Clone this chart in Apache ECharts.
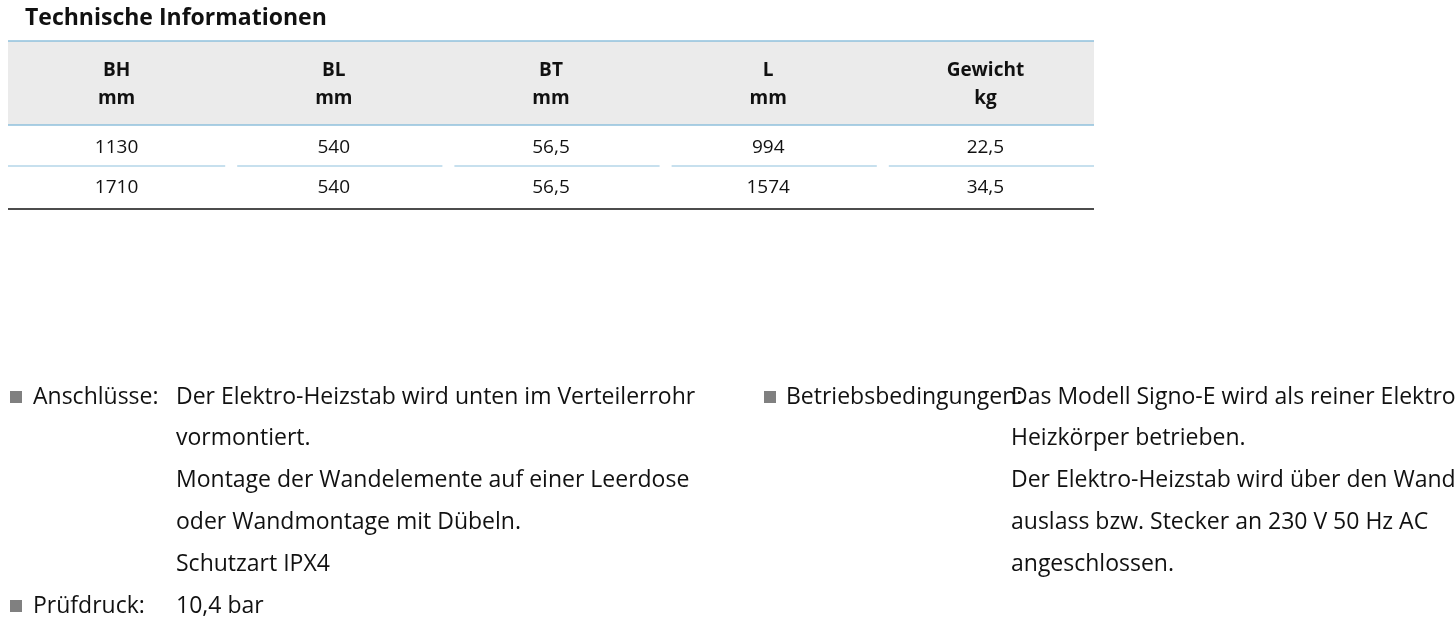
<!DOCTYPE html>
<html><head><meta charset="utf-8">
<script src="https://cdn.jsdelivr.net/npm/echarts@6/dist/echarts.min.js"></script>
<style>html,body{margin:0;background:#fff}#c{width:1456px;height:636px}</style>
</head><body><div id="c"></div>
<script>
'use strict';
var title = 'Technische Informationen';
var headers = ['BH', 'BL', 'BT', 'L', 'Gewicht'];
var units = ['mm', 'mm', 'mm', 'mm', 'kg'];
var rows = [
    ['1130', '540', '56,5', '994', '22,5'],
    ['1710', '540', '56,5', '1574', '34,5']
];
var leftNotes = [
    {label: 'Anschlüsse:', lines: ['Der Elektro-Heizstab wird unten im Verteilerrohr', 'vormontiert.', 'Montage der Wandelemente auf einer Leerdose', 'oder Wandmontage mit Dübeln.', 'Schutzart IPX4']},
    {label: 'Prüfdruck:', lines: ['10,4 bar']}
];
var rightNotes = [
    {label: 'Betriebsbedingungen:', lines: ['Das Modell Signo-E wird als reiner Elektro-', 'Heizkörper betrieben.', 'Der Elektro-Heizstab wird über den Wand-', 'auslass bzw. Stecker an 230 V 50 Hz AC', 'angeschlossen.']}
];

var font = '"Liberation Sans Narrow", "Open Sans", sans-serif';
var chart = echarts.init(document.getElementById('c'));
var g = [];

function txt(x, y, s, size, weight, align) {
    g.push({type: 'text', x: x, y: y, style: {text: s, fill: '#111', font: (weight || 'normal') + ' ' + size + 'px ' + font, textAlign: align || 'left', textVerticalAlign: 'middle'}});
}
function line(x1, y1, x2, y2, color, w) {
    g.push({type: 'line', shape: {x1: x1, y1: y1, x2: x2, y2: y2}, style: {stroke: color, lineWidth: w || 1}});
}

txt(25, 18, title, 23, 'bold');
g.push({type: 'rect', shape: {x: 8, y: 41, width: 1086, height: 84}, style: {fill: '#ebebeb'}});
line(8, 41, 1094, 41, '#8fc1dd', 1.5);
line(8, 125, 1094, 125, '#8fc1dd', 1.5);

var colW = 1086 / 5;
for (var i = 0; i < headers.length; i++) {
    var cx = 8 + colW * (i + 0.5);
    txt(cx, 71, headers[i], 19, 'bold', 'center');
    txt(cx, 99, units[i], 19, 'bold', 'center');
    for (var r = 0; r < rows.length; r++) {
        txt(cx, 148 + r * 40, rows[r][i], 19, 'normal', 'center');
    }
    var x1 = i === 0 ? 8 : 8 + colW * i + 12;
    var x2 = 8 + colW * (i + 1) - (i === 4 ? 0 : 0);
    line(x1, 166, x2, 166, '#8fc1dd', 1.2);
}
line(8, 209, 1094, 209, '#111', 1.5);

function notes(list, sqX, labelX, textX, y0) {
    var y = y0;
    list.forEach(function (n) {
        g.push({type: 'rect', shape: {x: sqX, y: y - 6, width: 12, height: 12}, style: {fill: '#808080'}});
        txt(labelX, y, n.label, 23);
        n.lines.forEach(function (l) {
            txt(textX, y, l, 23);
            y += 41.8;
        });
    });
}
notes(leftNotes, 10, 33, 176, 397);
notes(rightNotes, 764, 786, 1011, 397);

chart.setOption({animation: false, graphic: g});
</script></body></html>
